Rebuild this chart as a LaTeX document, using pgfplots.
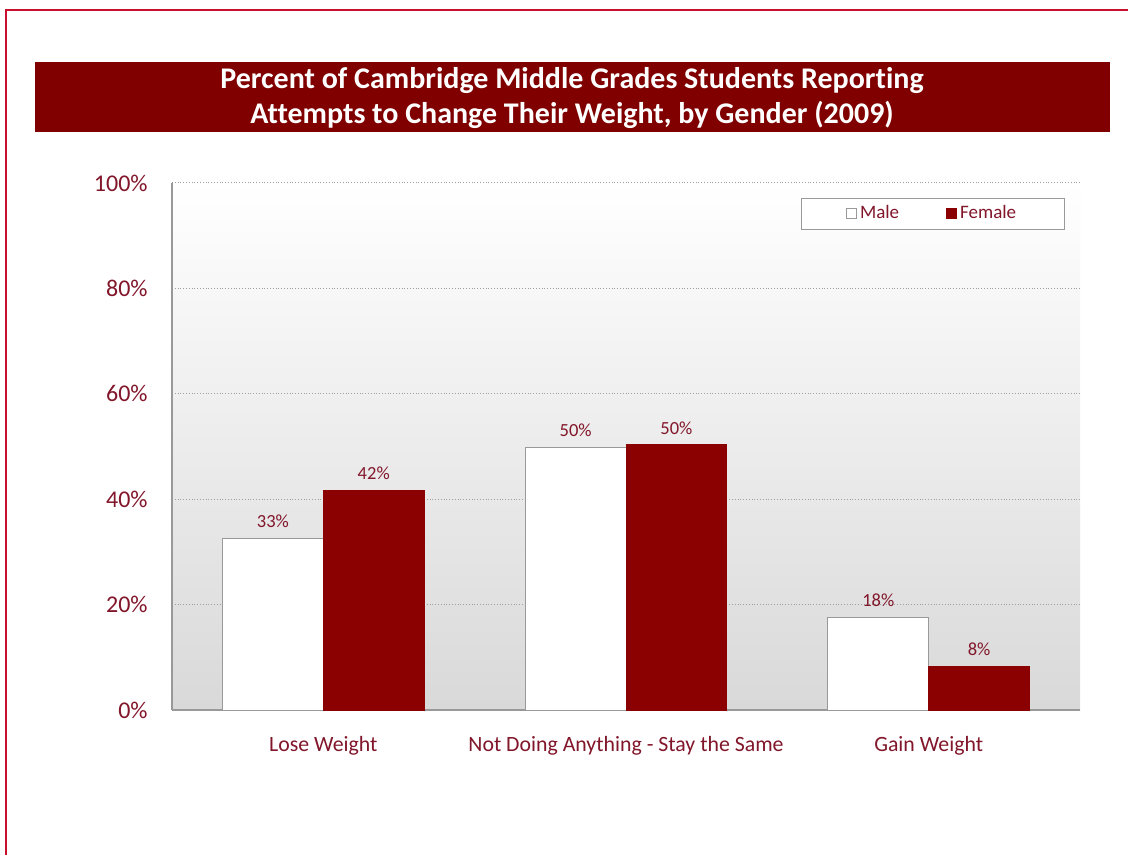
\documentclass[border=0pt]{standalone}
\usepackage{fontspec}
\setmainfont{Carlito}[Ligatures={NoCommon}]
\usepackage{pgfplots}
\pgfplotsset{compat=1.18}

\definecolor{banner}{RGB}{128,0,0}
\definecolor{barred}{RGB}{139,0,0}
\definecolor{framered}{RGB}{200,16,46}
\definecolor{labelred}{RGB}{130,22,42}

\begin{document}
\begin{tikzpicture}
\begin{scope}[x=0.5pt,y=-0.5pt]
% page and frame
\path[use as bounding box, fill=white] (0,0) rectangle (1128,855);
\draw[framered, line width=1.1pt] (6,856) -- (6,10) -- (1129,10);
% title banner
\fill[banner] (35,62) rectangle (1110,132);
\node[white, font=\fontsize{15}{17.5}\selectfont\bfseries, align=center, inner sep=0pt]
  at (572,98) {Percent of Cambridge Middle Grades Students Reporting\\Attempts to Change Their Weight, by Gender (2009)};
\end{scope}

\begin{axis}[
  at={(86pt,-355pt)}, anchor=south west,
  scale only axis, width=454pt, height=263.5pt,
  xmin=-0.5, xmax=2.5, ymin=0, ymax=100,
  ybar=0pt, bar width=0.333,
  axis x line*=bottom, axis y line*=left,
  axis line style={gray!80, line width=0.6pt},
  axis background/.style={shade, top color=white, bottom color=gray!30},
  major tick length=0pt,
  xtick={0,1,2},
  xticklabels={Lose Weight, Not Doing Anything - Stay the Same, Gain Weight},
  ytick={0,20,...,100},
  yticklabel={\pgfmathprintnumber{\tick}\%},
  /pgf/number format/assume math mode=true,
  ymajorgrids,
  grid style={gray!75, densely dotted, line width=0.5pt},
  yticklabel style={font=\fontsize{12}{14}\selectfont, text=labelred, inner sep=0pt, xshift=-12pt},
  xticklabel style={font=\fontsize{10.9}{13}\selectfont, text=labelred, inner sep=0pt, yshift=-13pt},
  nodes near coords={\pgfmathprintnumber[fixed, precision=0]{\pgfplotspointmeta}\%},
  every node near coord/.append style={font=\fontsize{9.25}{11}\selectfont, text=labelred, inner sep=0pt, yshift=5pt},
  legend columns=2,
  legend image code/.code={\draw[#1] (0pt,-2.5pt) rectangle (5pt,2.5pt);},
  legend style={at={(0.983,0.972)}, anchor=north east, draw=gray!80, fill=white,
    font=\fontsize{9.5}{11}\selectfont, text=labelred,
    inner xsep=22.5pt, inner ysep=1.8pt,
    nodes={inner xsep=1.5pt, inner ysep=2pt},
    /tikz/every even column/.append style={column sep=22pt}},
]
\addplot[fill=white, draw=gray!80, line width=0.5pt] coordinates {(0,32.6) (1,49.9) (2,17.6)};
\addplot[fill=barred, draw=barred, line width=0.5pt] coordinates {(0,41.7) (1,50.3) (2,8.3)};
\legend{Male, Female}
\end{axis}
\end{tikzpicture}
\end{document}
